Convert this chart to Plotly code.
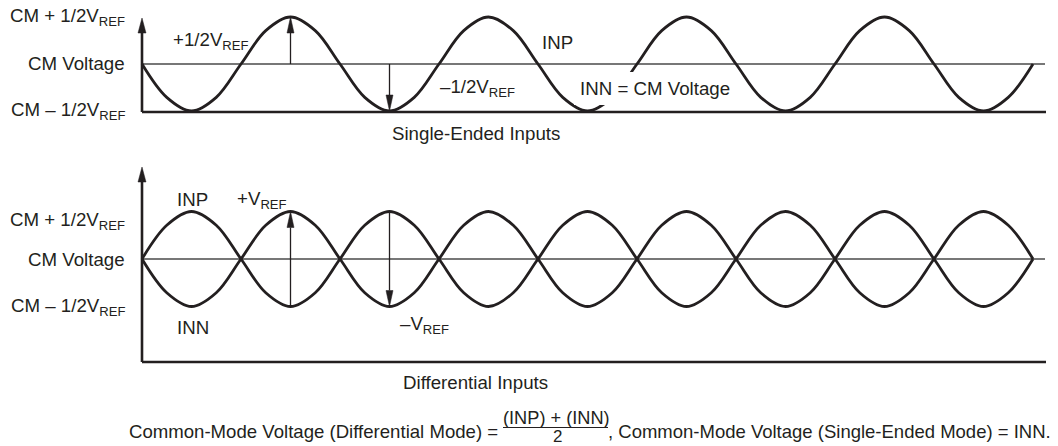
import plotly.graph_objects as go

# ---------------- data ----------------
# phase of the sketched waveforms, degrees (4.5 cycles drawn)
phase_deg = [0, 45, 90, 135, 180, 225, 270, 315,
             360, 405, 450, 495, 540, 585, 630, 675,
             720, 765, 810, 855, 900, 945, 990, 1035,
             1080, 1125, 1170, 1215, 1260, 1305, 1350, 1395,
             1440, 1485, 1530, 1575, 1620]

# single-ended INP, in units of 1/2 VREF relative to CM
se_inp = [0, -0.71, -1, -0.71, 0, 0.71, 1, 0.71,
          0, -0.71, -1, -0.71, 0, 0.71, 1, 0.71,
          0, -0.71, -1, -0.71, 0, 0.71, 1, 0.71,
          0, -0.71, -1, -0.71, 0, 0.71, 1, 0.71,
          0, -0.71, -1, -0.71, 0]

# differential INP / INN, in units of 1/2 VREF relative to CM
diff_inp = [0, 0.71, 1, 0.71, 0, -0.71, -1, -0.71,
            0, 0.71, 1, 0.71, 0, -0.71, -1, -0.71,
            0, 0.71, 1, 0.71, 0, -0.71, -1, -0.71,
            0, 0.71, 1, 0.71, 0, -0.71, -1, -0.71,
            0, 0.71, 1, 0.71, 0]
diff_inn = [0, -0.71, -1, -0.71, 0, 0.71, 1, 0.71,
            0, -0.71, -1, -0.71, 0, 0.71, 1, 0.71,
            0, -0.71, -1, -0.71, 0, 0.71, 1, 0.71,
            0, -0.71, -1, -0.71, 0, 0.71, 1, 0.71,
            0, -0.71, -1, -0.71, 0]

level_labels = ["CM + 1/2V<sub>REF</sub>", "CM Voltage", "CM – 1/2V<sub>REF</sub>"]

# ---------------- layout constants ----------------
W, H = 1058, 446
INK = "#231f20"
MID = "#4a4a4a"
FONT = "Liberation Sans, Arial, Helvetica, sans-serif"
FS = 18.7

X0_PX, PX_PER_DEG = 142, 0.55          # x origin (axis) and scale
TOP_CM_PX, TOP_PPU = 64, 47.0          # top panel CM level and px per unit
BOT_CM_PX, BOT_PPU = 259, 47.5         # bottom panel

x_range = [-X0_PX / PX_PER_DEG, (W - X0_PX) / PX_PER_DEG]
y_top_range = [(TOP_CM_PX - H) / TOP_PPU, TOP_CM_PX / TOP_PPU]
y_bot_range = [(BOT_CM_PX - H) / BOT_PPU, BOT_CM_PX / BOT_PPU]

x_end_cm = (1045 - X0_PX) / PX_PER_DEG
x_end_base = (1046 - X0_PX) / PX_PER_DEG
top_base = (TOP_CM_PX - 112) / TOP_PPU
top_tip = (TOP_CM_PX - 18) / TOP_PPU
bot_base = (BOT_CM_PX - 362) / BOT_PPU
bot_tip = (BOT_CM_PX - 167) / BOT_PPU

fig = go.Figure()

curve = dict(color=INK, width=2.8, shape="spline", smoothing=1.0)
fig.add_trace(go.Scatter(x=phase_deg, y=se_inp, mode="lines", line=curve,
                         yaxis="y", hoverinfo="skip", showlegend=False))
fig.add_trace(go.Scatter(x=phase_deg, y=diff_inp, mode="lines", line=curve,
                         yaxis="y2", hoverinfo="skip", showlegend=False))
fig.add_trace(go.Scatter(x=phase_deg, y=diff_inn, mode="lines", line=curve,
                         yaxis="y2", hoverinfo="skip", showlegend=False))

shapes = []


def hline(y, x1, yref, width, color, layer="above"):
    shapes.append(dict(type="line", xref="x", yref=yref, x0=0, x1=x1, y0=y, y1=y,
                       line=dict(color=color, width=width), layer=layer))


def arrow(x, y_from, y_to, yref, ppu, width, length_px, half_w_px):
    direction = 1 if y_to > y_from else -1
    y_base = y_to - direction * length_px / ppu
    shapes.append(dict(type="line", xref="x", yref=yref, x0=x, x1=x, y0=y_from, y1=y_base,
                       line=dict(color=INK, width=width)))
    dx = half_w_px / PX_PER_DEG
    path = f"M {x - dx},{y_base} L {x},{y_to} L {x + dx},{y_base} Z"
    shapes.append(dict(type="path", xref="x", yref=yref, path=path,
                       fillcolor=INK, line=dict(color=INK, width=0.5)))


# top panel
hline(0, x_end_cm, "y", 1.3, MID, layer="below")
hline(top_base, x_end_base, "y", 2.6, INK)
arrow(0, top_base, top_tip, "y", TOP_PPU, 2.6, 15, 4)
arrow(270, 0, max(se_inp), "y", TOP_PPU, 1.3, 16, 3.5)
arrow(450, 0, min(se_inp), "y", TOP_PPU, 1.3, 16, 3.5)

# bottom panel
hline(0, x_end_cm, "y2", 1.3, MID, layer="below")
hline(bot_base, x_end_base, "y2", 2.6, INK)
arrow(0, bot_base, bot_tip, "y2", BOT_PPU, 2.6, 15, 4)
arrow(270, min(diff_inp), max(diff_inn), "y2", BOT_PPU, 1.3, 16, 3.5)
arrow(450, max(diff_inp), min(diff_inn), "y2", BOT_PPU, 1.3, 16, 3.5)

# fraction bar of the formula
shapes.append(dict(type="line", xref="paper", yref="paper",
                   x0=503 / W, x1=608 / W, y0=1 - 427.5 / H, y1=1 - 427.5 / H,
                   line=dict(color=INK, width=1.2)))


def txt(text, x_px, y_px, xanchor="left", size=FS, yanchor="middle", **kw):
    fig.add_annotation(text=text, x=x_px / W, y=1 - y_px / H, xref="paper", yref="paper",
                       xanchor=xanchor, yanchor=yanchor, showarrow=False,
                       borderpad=kw.pop("borderpad", 0), borderwidth=0,
                       font=dict(family=FONT, size=size, color=INK), **kw)


# left level labels
for lab, yp in zip(level_labels, [17, 64, 111]):
    txt(lab, 125, yp, "right")
for lab, yp in zip(level_labels, [221, 259, 307]):
    txt(lab, 125, yp, "right")

# top panel labels
txt("+1/2V<sub>REF</sub>", 173, 41)
txt("–1/2V<sub>REF</sub>", 440, 88)
txt("INP", 542, 42)
txt("INN = CM Voltage", 574, 88.5, borderpad=6, bgcolor="white")
txt("Single-Ended Inputs", 476, 133, "center")

# bottom panel labels
txt("INP", 177, 200)
txt("+V<sub>REF</sub>", 237, 200)
txt("INN", 177, 327)
txt("–V<sub>REF</sub>", 400, 325)
txt("Differential Inputs", 475, 382, "center")

# formula
txt("Common-Mode Voltage (Differential Mode) =", 498, 431, "right", size=18.6)
txt("(INP) + (INN)", 556, 417.5, "center", size=18.2)
txt("2", 557, 445.5, "center", size=17, yanchor="bottom")
txt(", Common-Mode Voltage (Single-Ended Mode) = INN.", 608, 431, size=18.5)

fig.update_layout(
    width=W, height=H, margin=dict(l=0, r=0, t=0, b=0),
    paper_bgcolor="white", plot_bgcolor="white",
    xaxis=dict(range=x_range, visible=False, fixedrange=True),
    yaxis=dict(range=y_top_range, visible=False, fixedrange=True),
    yaxis2=dict(range=y_bot_range, visible=False, overlaying="y", anchor="x", fixedrange=True),
    shapes=shapes,
    showlegend=False,
    font=dict(family=FONT, size=FS, color=INK),
)

fig.write_html("out.html", config={"displayModeBar": False},
               post_script="document.body.style.margin='0';")
